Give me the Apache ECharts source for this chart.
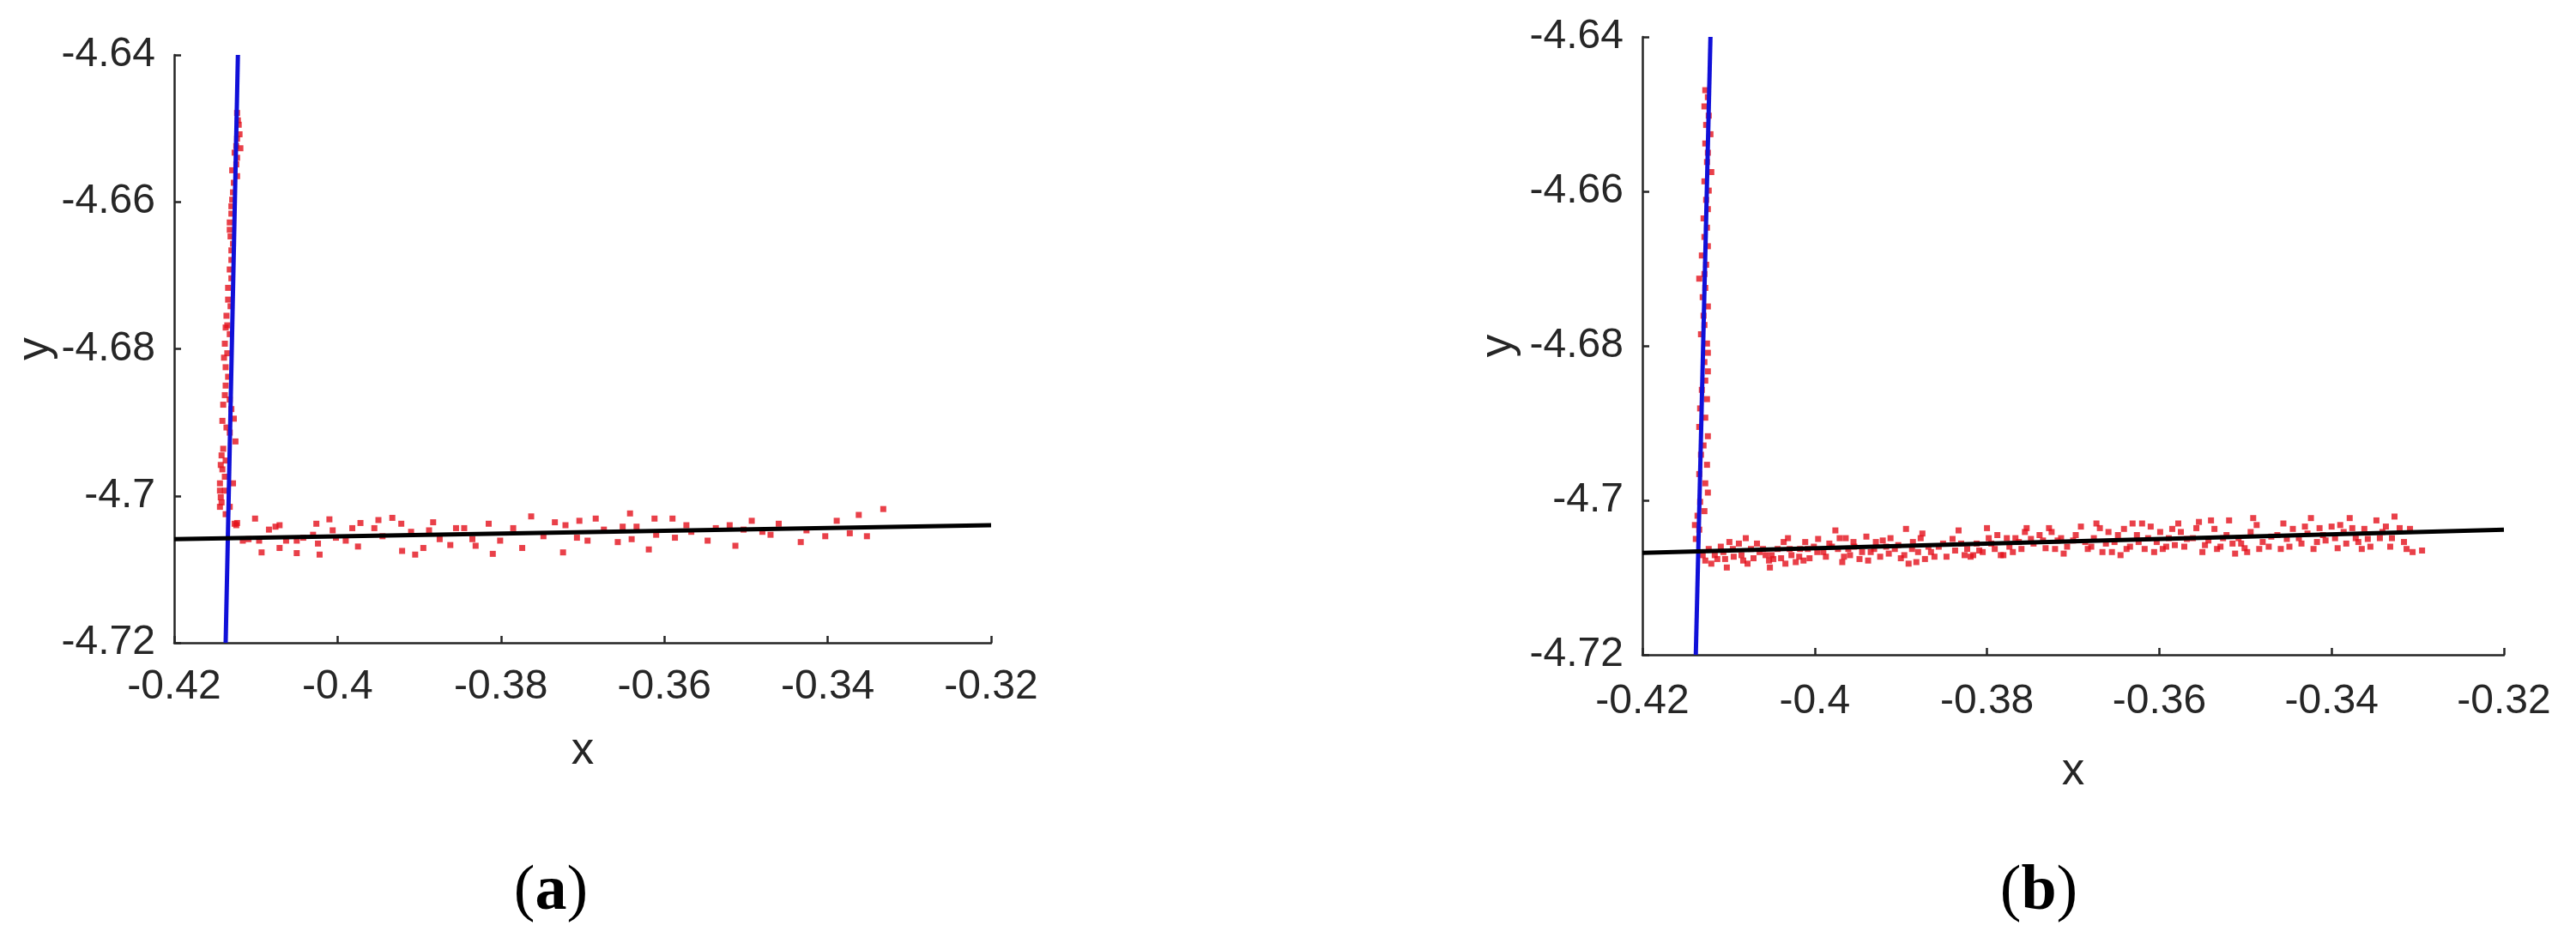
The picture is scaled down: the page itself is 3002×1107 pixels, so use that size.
<!DOCTYPE html>
<html lang="en">
<head>
    <meta charset="UTF-8">
    <title>Line fitting (a) (b)</title>
    <style>
        html, body { margin: 0; padding: 0; background: #fff; }
    </style>
</head>
<body>
<div id="chart_fit" style="width:3002px;height:1107px;"></div>
<script src="https://cdn.jsdelivr.net/npm/echarts@6/dist/echarts.min.js"></script>
<script>
    // tick values shared by both panels
    var xTicks = [-0.42, -0.4, -0.38, -0.36, -0.34, -0.32];
    var yTicks = [-4.72, -4.7, -4.68, -4.66, -4.64];

    // (a) points on the near-vertical edge
    var aVertPts = [
        [-0.4123, -4.6479], [-0.4121, -4.6495], [-0.4120, -4.6508], [-0.4124, -4.6524], [-0.4119, -4.6527],
        [-0.4123, -4.6540], [-0.4129, -4.6557], [-0.4123, -4.6565], [-0.4128, -4.6587], [-0.4130, -4.6616],
        [-0.4132, -4.6628], [-0.4131, -4.6647], [-0.4128, -4.6657], [-0.4130, -4.6679], [-0.4132, -4.6692],
        [-0.4130, -4.6704], [-0.4134, -4.6733], [-0.4135, -4.6768], [-0.4137, -4.6771], [-0.4138, -4.6793],
        [-0.4135, -4.6806], [-0.4137, -4.6825], [-0.4134, -4.6838], [-0.4138, -4.6863], [-0.4132, -4.6869],
        [-0.4130, -4.6882], [-0.4141, -4.6898], [-0.4127, -4.6895], [-0.4132, -4.6914], [-0.4125, -4.6926],
        [-0.4140, -4.6936], [-0.4142, -4.6945], [-0.4137, -4.6952], [-0.4141, -4.6964], [-0.4144, -4.6983],
        [-0.4138, -4.6993], [-0.4128, -4.6983], [-0.4143, -4.7002], [-0.4132, -4.7015], [-0.4144, -4.7015],
        [-0.4123, -4.7037],
        [-0.4122, -4.6489], [-0.4123, -4.6514], [-0.4126, -4.6533], [-0.4124, -4.6549], [-0.4127, -4.6574],
        [-0.4129, -4.6597], [-0.4130, -4.6606], [-0.4132, -4.6638], [-0.4130, -4.6666], [-0.4134, -4.6717],
        [-0.4131, -4.6742], [-0.4136, -4.6755], [-0.4132, -4.6780], [-0.4139, -4.6812], [-0.4137, -4.6850],
        [-0.4140, -4.6876], [-0.4136, -4.6907], [-0.4143, -4.6958], [-0.4138, -4.6974], [-0.4144, -4.6993],
        [-0.4142, -4.7009], [-0.4137, -4.7025]
    ];
    // (a) points on the near-horizontal edge
    var aHorzPts = [
        [-0.4126, -4.7038], [-0.4124, -4.7040], [-0.4116, -4.7061], [-0.4109, -4.7059],
        [-0.4101, -4.7031], [-0.4096, -4.7061], [-0.4093, -4.7077], [-0.4084, -4.7046], [-0.4076, -4.7042],
        [-0.4071, -4.7040], [-0.4071, -4.7071], [-0.4063, -4.7061], [-0.4050, -4.7061], [-0.4050, -4.7078],
        [-0.4042, -4.7057], [-0.4030, -4.7053], [-0.4026, -4.7038], [-0.4022, -4.7080], [-0.4024, -4.7065],
        [-0.4010, -4.7032], [-0.4006, -4.7047], [-0.4002, -4.7057], [-0.3990, -4.7061], [-0.3982, -4.7044],
        [-0.3975, -4.7069], [-0.3972, -4.7037], [-0.3955, -4.7044], [-0.3950, -4.7033], [-0.3945, -4.7055],
        [-0.3933, -4.7030], [-0.3922, -4.7038], [-0.3921, -4.7075], [-0.3910, -4.7049], [-0.3905, -4.7080],
        [-0.3895, -4.7071], [-0.3888, -4.7047], [-0.3883, -4.7036], [-0.3875, -4.7059], [-0.3862, -4.7067],
        [-0.3855, -4.7044], [-0.3845, -4.7044], [-0.3835, -4.7059], [-0.3831, -4.7068], [-0.3815, -4.7038],
        [-0.3810, -4.7079], [-0.3801, -4.7061], [-0.3785, -4.7044], [-0.3774, -4.7071], [-0.3763, -4.7028],
        [-0.3748, -4.7055], [-0.3734, -4.7036], [-0.3724, -4.7077], [-0.3721, -4.7040], [-0.3704, -4.7034],
        [-0.3707, -4.7057], [-0.3694, -4.7061], [-0.3684, -4.7031], [-0.3674, -4.7046], [-0.3657, -4.7063],
        [-0.3651, -4.7042], [-0.3642, -4.7024], [-0.3640, -4.7059], [-0.3634, -4.7042], [-0.3619, -4.7073],
        [-0.3612, -4.7031], [-0.3610, -4.7053], [-0.3590, -4.7031], [-0.3587, -4.7057], [-0.3573, -4.7040],
        [-0.3567, -4.7049], [-0.3547, -4.7061], [-0.3537, -4.7044], [-0.3520, -4.7040], [-0.3513, -4.7068],
        [-0.3503, -4.7046], [-0.3493, -4.7034], [-0.3480, -4.7049], [-0.3470, -4.7053], [-0.3460, -4.7038],
        [-0.3433, -4.7063], [-0.3426, -4.7047], [-0.3403, -4.7055], [-0.3389, -4.7034], [-0.3373, -4.7051],
        [-0.3362, -4.7026], [-0.3352, -4.7055], [-0.3332, -4.7018]
    ];
    // (a) fitted lines, end points
    var aBlueFit = [[-0.4137, -4.72], [-0.4122, -4.64]];
    var aBlackFit = [[-0.42, -4.7059], [-0.32, -4.7040]];

    // (b) points on the near-vertical edge
    var bVertPts = [
        [-0.4127, -4.6469], [-0.4124, -4.6478], [-0.4128, -4.6490], [-0.4123, -4.6502], [-0.4126, -4.6514],
        [-0.4121, -4.6526], [-0.4127, -4.6538], [-0.4124, -4.6550], [-0.4125, -4.6562], [-0.4120, -4.6575],
        [-0.4128, -4.6587], [-0.4123, -4.6599], [-0.4126, -4.6611], [-0.4124, -4.6623], [-0.4129, -4.6635],
        [-0.4125, -4.6647], [-0.4128, -4.6659], [-0.4124, -4.6671], [-0.4131, -4.6683], [-0.4126, -4.6695],
        [-0.4128, -4.6707], [-0.4134, -4.6713], [-0.4127, -4.6725], [-0.4130, -4.6737], [-0.4124, -4.6749],
        [-0.4129, -4.6761], [-0.4128, -4.6773], [-0.4132, -4.6785], [-0.4125, -4.6797], [-0.4124, -4.6809],
        [-0.4128, -4.6821], [-0.4124, -4.6833], [-0.4127, -4.6845], [-0.4131, -4.6857], [-0.4125, -4.6869],
        [-0.4133, -4.6881], [-0.4127, -4.6893], [-0.4134, -4.6905], [-0.4124, -4.6917], [-0.4129, -4.6929],
        [-0.4132, -4.6941], [-0.4125, -4.6954], [-0.4134, -4.6966], [-0.4127, -4.6978], [-0.4124, -4.6990],
        [-0.4133, -4.7002], [-0.4128, -4.7014], [-0.4136, -4.7020], [-0.4139, -4.7032], [-0.4134, -4.7038],
        [-0.4138, -4.7050]
    ];
    // (b) points on the near-horizontal edge
    var bHorzPts = [
        [-0.4123, -4.7063], [-0.4120, -4.7082], [-0.4116, -4.7071], [-0.4109, -4.7060], [-0.4104, -4.7076],
        [-0.4102, -4.7087], [-0.4099, -4.7054], [-0.4094, -4.7073], [-0.4088, -4.7056], [-0.4083, -4.7078],
        [-0.4080, -4.7049], [-0.4074, -4.7063], [-0.4067, -4.7056], [-0.4064, -4.7067], [-0.4057, -4.7071],
        [-0.4052, -4.7087], [-0.4048, -4.7076], [-0.4043, -4.7063], [-0.4036, -4.7054], [-0.4031, -4.7049],
        [-0.4027, -4.7071], [-0.4022, -4.7080], [-0.4017, -4.7063], [-0.4011, -4.7054], [-0.4006, -4.7075],
        [-0.4001, -4.7060], [-0.3996, -4.7050], [-0.3990, -4.7067], [-0.3983, -4.7056], [-0.3976, -4.7039],
        [-0.3973, -4.7063], [-0.3968, -4.7080], [-0.3964, -4.7049], [-0.3959, -4.7071], [-0.3954, -4.7060],
        [-0.3948, -4.7076], [-0.3940, -4.7047], [-0.3935, -4.7067], [-0.3929, -4.7054], [-0.3924, -4.7073],
        [-0.3917, -4.7060], [-0.3912, -4.7049], [-0.3907, -4.7063], [-0.3900, -4.7075], [-0.3894, -4.7037],
        [-0.3891, -4.7082], [-0.3886, -4.7054], [-0.3880, -4.7067], [-0.3875, -4.7043], [-0.3872, -4.7076],
        [-0.3865, -4.7067], [-0.3856, -4.7060], [-0.3847, -4.7073], [-0.3840, -4.7050], [-0.3833, -4.7039],
        [-0.3826, -4.7071], [-0.3819, -4.7073], [-0.3812, -4.7056], [-0.3805, -4.7067], [-0.3800, -4.7036],
        [-0.3795, -4.7056], [-0.3788, -4.7045], [-0.3781, -4.7071], [-0.3774, -4.7060], [-0.3767, -4.7049],
        [-0.3760, -4.7063], [-0.3754, -4.7036], [-0.3749, -4.7050], [-0.3739, -4.7045], [-0.3732, -4.7062],
        [-0.3725, -4.7041], [-0.3718, -4.7052], [-0.3711, -4.7069], [-0.3700, -4.7052], [-0.3691, -4.7034],
        [-0.3683, -4.7063], [-0.3676, -4.7049], [-0.3673, -4.7030], [-0.3666, -4.7067], [-0.3659, -4.7041],
        [-0.3652, -4.7054], [-0.3645, -4.7071], [-0.3638, -4.7063], [-0.3631, -4.7030], [-0.3626, -4.7045],
        [-0.3620, -4.7030], [-0.3613, -4.7049], [-0.3606, -4.7067], [-0.3599, -4.7041], [-0.3592, -4.7060],
        [-0.3585, -4.7037], [-0.3578, -4.7030], [-0.3571, -4.7060], [-0.3561, -4.7049], [-0.3554, -4.7028],
        [-0.3547, -4.7058], [-0.3540, -4.7026], [-0.3533, -4.7063], [-0.3526, -4.7049], [-0.3519, -4.7026],
        [-0.3512, -4.7069], [-0.3505, -4.7056], [-0.3498, -4.7067], [-0.3491, -4.7023], [-0.3484, -4.7063],
        [-0.3473, -4.7060], [-0.3463, -4.7045], [-0.3456, -4.7030], [-0.3449, -4.7060], [-0.3438, -4.7049],
        [-0.3431, -4.7034], [-0.3424, -4.7023], [-0.3417, -4.7054], [-0.3410, -4.7045], [-0.3400, -4.7034],
        [-0.3393, -4.7062], [-0.3386, -4.7041], [-0.3379, -4.7023], [-0.3372, -4.7049], [-0.3365, -4.7063],
        [-0.3358, -4.7050], [-0.3348, -4.7026], [-0.3341, -4.7041], [-0.3332, -4.7060], [-0.3327, -4.7021],
        [-0.3321, -4.7036], [-0.3313, -4.7063], [-0.3306, -4.7067], [-0.3295, -4.7065],
        [-0.4130, -4.7071], [-0.4127, -4.7078], [-0.4113, -4.7076], [-0.4106, -4.7067], [-0.4095, -4.7063],
        [-0.4085, -4.7071], [-0.4078, -4.7082], [-0.4071, -4.7075], [-0.4060, -4.7063], [-0.4053, -4.7078],
        [-0.4050, -4.7071], [-0.4039, -4.7075], [-0.4034, -4.7082], [-0.4029, -4.7063], [-0.4018, -4.7073],
        [-0.4013, -4.7078], [-0.4008, -4.7063], [-0.3997, -4.7067], [-0.3987, -4.7073], [-0.3980, -4.7060],
        [-0.3971, -4.7049], [-0.3966, -4.7073], [-0.3961, -4.7063], [-0.3955, -4.7054], [-0.3945, -4.7067],
        [-0.3938, -4.7078], [-0.3931, -4.7063], [-0.3921, -4.7052], [-0.3914, -4.7069], [-0.3903, -4.7058],
        [-0.3896, -4.7071], [-0.3887, -4.7063], [-0.3882, -4.7080], [-0.3877, -4.7049], [-0.3868, -4.7060],
        [-0.3861, -4.7073], [-0.3851, -4.7056], [-0.3837, -4.7065], [-0.3830, -4.7056], [-0.3823, -4.7063],
        [-0.3816, -4.7071], [-0.3809, -4.7065], [-0.3798, -4.7049], [-0.3791, -4.7063], [-0.3784, -4.7071],
        [-0.3777, -4.7049], [-0.3770, -4.7067], [-0.3763, -4.7054], [-0.3756, -4.7041], [-0.3746, -4.7056],
        [-0.3735, -4.7052], [-0.3728, -4.7036], [-0.3721, -4.7063], [-0.3714, -4.7049], [-0.3707, -4.7060],
        [-0.3697, -4.7045], [-0.3686, -4.7054], [-0.3679, -4.7060], [-0.3669, -4.7036], [-0.3662, -4.7056],
        [-0.3655, -4.7067], [-0.3648, -4.7045], [-0.3641, -4.7037], [-0.3634, -4.7060], [-0.3624, -4.7054],
        [-0.3617, -4.7063], [-0.3610, -4.7034], [-0.3603, -4.7054], [-0.3596, -4.7063], [-0.3589, -4.7049],
        [-0.3582, -4.7058], [-0.3575, -4.7041], [-0.3568, -4.7050], [-0.3557, -4.7036], [-0.3550, -4.7067],
        [-0.3543, -4.7052], [-0.3536, -4.7037], [-0.3529, -4.7060], [-0.3522, -4.7045], [-0.3515, -4.7056],
        [-0.3508, -4.7049], [-0.3501, -4.7062], [-0.3494, -4.7041], [-0.3487, -4.7032], [-0.3480, -4.7054],
        [-0.3470, -4.7047], [-0.3459, -4.7063], [-0.3452, -4.7050], [-0.3445, -4.7037], [-0.3435, -4.7056],
        [-0.3428, -4.7043], [-0.3421, -4.7063], [-0.3414, -4.7036], [-0.3407, -4.7052], [-0.3396, -4.7049],
        [-0.3390, -4.7032], [-0.3383, -4.7056], [-0.3376, -4.7036], [-0.3369, -4.7054], [-0.3362, -4.7037],
        [-0.3355, -4.7060], [-0.3344, -4.7049], [-0.3337, -4.7034], [-0.3330, -4.7049], [-0.3316, -4.7054],
        [-0.3309, -4.7037]
    ];
    // (b) fitted lines, end points
    var bBlueFit = [[-0.4138, -4.72], [-0.4121, -4.64]];
    var bBlackFit = [[-0.42, -4.7068], [-0.32, -4.7038]];

    var textColor = '#262626';

    function xAxisFor(idx, nameGap, labelMargin) {
        return {
            gridIndex: idx,
            type: 'value',
            min: -0.42,
            max: -0.32,
            name: 'x',
            nameLocation: 'middle',
            nameGap: nameGap,
            nameTextStyle: { color: textColor, fontSize: 53, fontFamily: 'Liberation Sans' },
            axisLine: { show: true, onZero: false, lineStyle: { color: textColor, width: 2.5 } },
            axisTick: { show: true, inside: true, length: 8, customValues: xTicks, lineStyle: { color: textColor, width: 2.5 } },
            axisLabel: {
                customValues: xTicks,
                margin: labelMargin,
                color: textColor,
                fontSize: 48,
                fontFamily: 'Liberation Sans'
            },
            splitLine: { show: false }
        };
    }

    function yAxisFor(idx, nameGap) {
        return {
            gridIndex: idx,
            type: 'value',
            min: -4.72,
            max: -4.64,
            name: 'y',
            nameLocation: 'middle',
            nameGap: nameGap,
            nameTextStyle: { color: textColor, fontSize: 53, fontFamily: 'Liberation Sans' },
            axisLine: { show: true, onZero: false, lineStyle: { color: textColor, width: 2.5 } },
            axisTick: { show: true, inside: true, length: 8, customValues: yTicks, lineStyle: { color: textColor, width: 2.5 } },
            axisLabel: {
                customValues: yTicks,
                margin: 22,
                color: textColor,
                fontSize: 48,
                fontFamily: 'Liberation Sans'
            },
            splitLine: { show: false }
        };
    }

    function pointSeries(idx, data) {
        return {
            type: 'scatter',
            xAxisIndex: idx,
            yAxisIndex: idx,
            symbol: 'rect',
            symbolSize: 7,
            itemStyle: { color: '#e3101c' },
            silent: true,
            data: data
        };
    }

    function fitSeries(idx, data, color) {
        return {
            type: 'line',
            xAxisIndex: idx,
            yAxisIndex: idx,
            showSymbol: false,
            lineStyle: { color: color, width: 5 },
            silent: true,
            data: data
        };
    }

    function caption(letter, cx) {
        return {
            text: '{p|(}{b|' + letter + '}{p|)}',
            left: cx,
            top: 998,
            textAlign: 'center',
            textStyle: {
                rich: {
                    p: { fontFamily: 'Liberation Serif', fontSize: 74, fontWeight: 'normal', color: '#000' },
                    b: { fontFamily: 'Liberation Serif', fontSize: 74, fontWeight: 'bold', color: '#000' }
                }
            }
        };
    }

    var myChart = echarts.init(document.getElementById('chart_fit'));

    myChart.setOption({
        backgroundColor: '#ffffff',
        animation: false,
        title: [caption('a', 637), caption('b', 2371)],
        grid: [
            { left: 203, top: 64, width: 952, height: 685 },
            { left: 1914, top: 43, width: 1004, height: 720 }
        ],
        xAxis: [xAxisFor(0, 100, 28), xAxisFor(1, 110, 31)],
        yAxis: [yAxisFor(0, 133), yAxisFor(1, 141)],
        series: [
            pointSeries(0, aVertPts),
            pointSeries(0, aHorzPts),
            fitSeries(0, aBlueFit, '#1010d8'),
            fitSeries(0, aBlackFit, '#000000'),
            pointSeries(1, bVertPts),
            pointSeries(1, bHorzPts),
            fitSeries(1, bBlueFit, '#1010d8'),
            fitSeries(1, bBlackFit, '#000000')
        ]
    });

    window.addEventListener("resize", function () {
        myChart.resize();
    });
</script>
</body>
</html>
